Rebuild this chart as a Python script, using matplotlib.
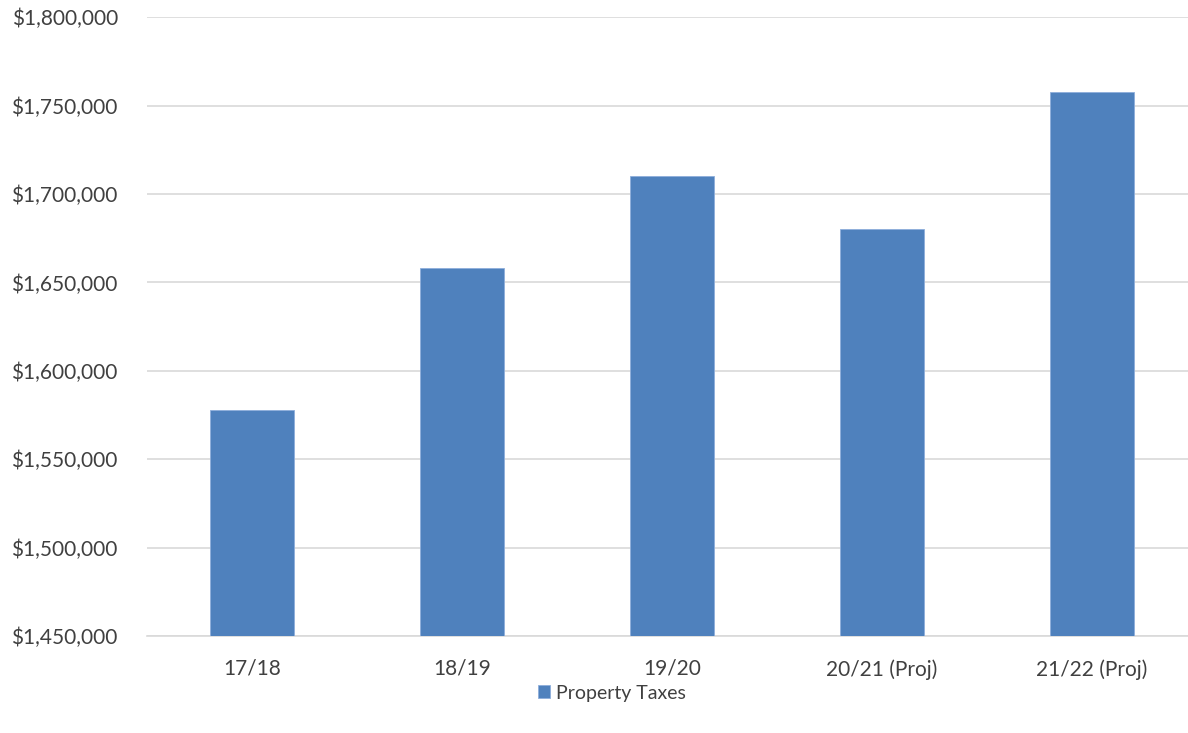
import matplotlib
matplotlib.use("Agg")
import matplotlib.pyplot as plt
from matplotlib.ticker import FuncFormatter, MultipleLocator

# values
years = ["17/18", "18/19", "19/20", "20/21 (Proj)", "21/22 (Proj)"]
property_taxes = [1577800, 1658200, 1710200, 1680200, 1757800]

plt.rcParams["font.family"] = ["Lato", "DejaVu Sans"]
text_col = "#404040"
bar_col = "#4F81BD"
grid_col = "#D9D9D9"

W, H = 1188, 733
fig = plt.figure(figsize=(W / 100, H / 100), dpi=100)
ax = fig.add_axes([147 / W, 1 - 636 / H, 1050 / W, (636 - 17.3) / H])

x = range(len(years))
ax.bar(x, property_taxes, width=0.4, color=bar_col, edgecolor="#8EAEDB",
       linewidth=0.6, label="Property Taxes", zorder=3)

ax.set_xlim(-0.5, len(years) - 0.5)
ax.set_ylim(1450000, 1800000)
ax.yaxis.set_major_locator(MultipleLocator(50000))
ax.yaxis.set_major_formatter(FuncFormatter(lambda v, p: f"${v:,.0f}"))
ax.set_xticks(list(x))
ax.set_xticklabels(years)

ax.grid(axis="y", color=grid_col, linewidth=1.2, zorder=0)
for s in ["top", "right", "left"]:
    ax.spines[s].set_visible(False)
ax.spines["bottom"].set_color(grid_col)
ax.spines["bottom"].set_linewidth(1.2)
ax.tick_params(axis="both", length=0, labelsize=15, colors=text_col)
ax.tick_params(axis="y", pad=21)
ax.tick_params(axis="x", pad=16.5)

fig.legend(loc="center", bbox_to_anchor=(612 / W, 1 - 693 / H), frameon=False,
           fontsize=14, labelcolor=text_col, handlelength=0.6, handleheight=0.6,
           handletextpad=0.3)

fig.savefig("out.png", dpi=100)
